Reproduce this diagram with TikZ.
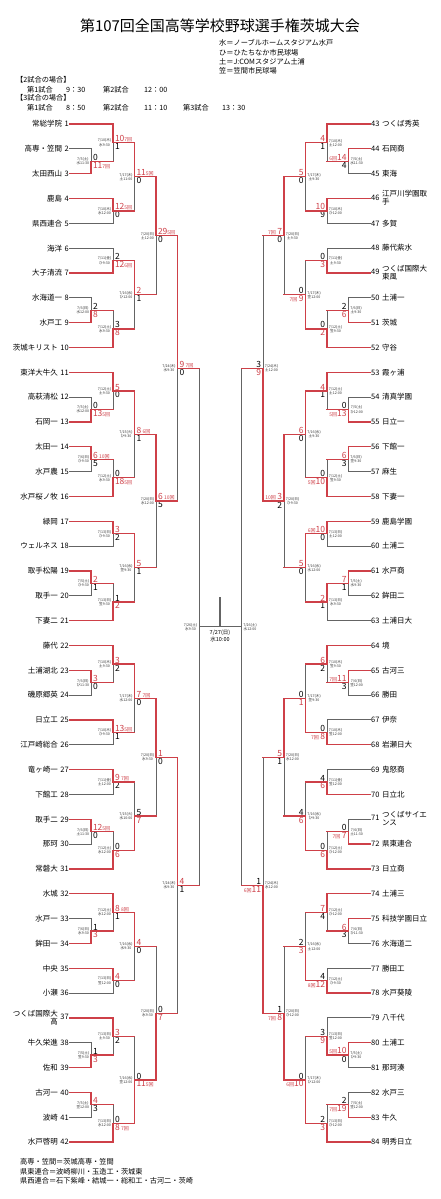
\documentclass[tikz,border=0pt]{standalone}
\usepackage{fontspec}
\setmainfont{Noto Sans CJK JP}
\usetikzlibrary{calc}
\pgfdeclarelayer{front}
\pgfsetlayers{main,front}
\definecolor{wred}{RGB}{206,64,72}
\definecolor{lgray}{RGB}{100,100,100}
\renewcommand\arraystretch{0.78}
\tikzset{
  ln-r/.style={draw=wred, line width=1.3pt, line cap=rect},
  ln-g/.style={draw=lgray, line width=0.9pt, line cap=rect},
  teamlbl/.style={font=\fontsize{7.5}{8}\selectfont, inner sep=0.5pt},
  sc/.style={font=\fontsize{8.5}{9}\selectfont, inner sep=0.6pt},
  dt/.style={font=\fontsize{3.6}{4.1}\selectfont, align=center, inner sep=0.4pt, text=black!80},
  hdr/.style={font=\fontsize{7.2}{8}\selectfont, inner sep=0pt, anchor=west},
}
\newcommand\inn[1]{{\fontsize{5}{5}\selectfont#1}}
\newcommand\seg[3]{\if r#1\begin{pgfonlayer}{front}\draw[ln-r] (#2) -- (#3);\end{pgfonlayer}\else\draw[ln-g] (#2) -- (#3);\fi}
\newcommand\setwin[1]{\ifcase#1 \def\vA{g}\def\vB{g}\def\cA{black}\def\cB{black}%
  \or \def\vA{r}\def\vB{g}\def\cA{wred}\def\cB{black}%
  \or \def\vA{g}\def\vB{r}\def\cA{black}\def\cB{wred}\fi}
% left match: name, X, A, B, styleA, styleB, winner, scoreA, scoreB
\newcommand\mL[9]{%
  \coordinate (#1-m) at ($(#3)!.5!(#4)$);
  \coordinate (#1) at (#1-m -| #2);
  \seg{#5}{#3}{#3 -| #1}%
  \seg{#6}{#4}{#4 -| #1}%
  \setwin{#7}%
  \seg{\vA}{#3 -| #1}{#1}%
  \seg{\vB}{#1}{#4 -| #1}%
  \node[sc,text=\cA,anchor=south west] (#1-a) at ([xshift=1.2pt]#1) {#8};
  \node[sc,text=\cB,anchor=north west] (#1-b) at ([xshift=1.2pt]#1) {#9};
}
\newcommand\mR[9]{%
  \coordinate (#1-m) at ($(#3)!.5!(#4)$);
  \coordinate (#1) at (#1-m -| #2);
  \seg{#5}{#3}{#3 -| #1}%
  \seg{#6}{#4}{#4 -| #1}%
  \setwin{#7}%
  \seg{\vA}{#3 -| #1}{#1}%
  \seg{\vB}{#1}{#4 -| #1}%
  \node[sc,text=\cA,anchor=south east] (#1-a) at ([xshift=-1.2pt]#1) {#8};
  \node[sc,text=\cB,anchor=north east] (#1-b) at ([xshift=-1.2pt]#1) {#9};
}
\newcommand\dL[2]{\node[dt,anchor=east] (#1-d) at ([xshift=-1.2pt]#1) {#2};}
\newcommand\dR[2]{\node[dt,anchor=west] (#1-d) at ([xshift=1.2pt]#1) {#2};}
\newcommand\tL[2]{\pgfmathsetmacro\yy{124+(#1-1)*24.83}\node[teamlbl,anchor=east] (t#1) at (69.5,\yy) {#2\hspace{2.5pt}#1};}
\newcommand\tR[2]{\pgfmathsetmacro\yy{124+(#1-43)*24.83}\node[teamlbl,anchor=west] (t#1) at (370.5,\yy) {#1\hspace{2.5pt}#2};}
\begin{document}
\begin{tikzpicture}[x=1pt,y=-1pt]
\fill[white] (0,0) rectangle (440,1199);
\path[use as bounding box] (0,0) rectangle (440,1199);
% header
\node[font=\fontsize{15}{16}\selectfont, inner sep=0pt] (title) at (220,26) {第107回全国高等学校野球選手権茨城大会};
\node[hdr] (lg1) at (219,43) {水＝ノーブルホームスタジアム水戸};
\node[hdr] (lg2) at (219,52.5) {ひ＝ひたちなか市民球場};
\node[hdr] (lg3) at (219,62) {土＝J:COMスタジアム土浦};
\node[hdr] (lg4) at (219,71) {笠＝笠間市民球場};
\node[hdr] (h2) at (16,80) {【2試合の場合】};
\node[hdr] (h2a) at (27,90) {第1試合};
\node[hdr] (h2b) at (66,90) {9：30};
\node[hdr] (h2c) at (103,90) {第2試合};
\node[hdr] (h2d) at (144,90) {12：00};
\node[hdr] (h3) at (16,98) {【3試合の場合】};
\node[hdr] (h3a) at (27,108) {第1試合};
\node[hdr] (h3b) at (66,108) {8：50};
\node[hdr] (h3c) at (103,108) {第2試合};
\node[hdr] (h3d) at (144,108) {11：10};
\node[hdr] (h3e) at (183,108) {第3試合};
\node[hdr] (h3f) at (222,108) {13：30};
% footer
\node[hdr] (f1) at (20,1162) {高専・笠間＝茨城高専・笠間};
\node[hdr] (f2) at (20,1171.5) {県東連合＝波崎柳川・玉造工・茨城東};
\node[hdr] (f3) at (20,1181) {県西連合＝石下紫峰・結城一・総和工・古河二・茨崎};
% x levels
\coordinate (LP) at (91,0);  \coordinate (L1) at (113,0); \coordinate (L2) at (134.5,0);
\coordinate (L3) at (156,0); \coordinate (L4) at (177.5,0); \coordinate (L5) at (199,0);
\coordinate (RP) at (348.5,0); \coordinate (R1) at (327,0); \coordinate (R2) at (305.5,0);
\coordinate (R3) at (284,0); \coordinate (R4) at (263,0); \coordinate (R5) at (241.5,0);
% left teams
\tL{1}{常総学院}\tL{2}{高専・笠間}\tL{3}{太田西山}\tL{4}{鹿島}\tL{5}{県西連合}
\tL{6}{海洋}\tL{7}{大子清流}\tL{8}{水海道一}\tL{9}{水戸工}\tL{10}{茨城キリスト}
\tL{11}{東洋大牛久}\tL{12}{高萩清松}\tL{13}{石岡一}\tL{14}{太田一}\tL{15}{水戸農}
\tL{16}{水戸桜ノ牧}\tL{17}{緑岡}\tL{18}{ウェルネス}\tL{19}{取手松陽}\tL{20}{取手一}
\tL{21}{下妻二}\tL{22}{藤代}\tL{23}{土浦湖北}\tL{24}{磯原郷英}\tL{25}{日立工}
\tL{26}{江戸崎総合}\tL{27}{竜ヶ崎一}\tL{28}{下館工}\tL{29}{取手二}\tL{30}{那珂}
\tL{31}{常磐大}\tL{32}{水城}\tL{33}{水戸一}\tL{34}{鉾田一}\tL{35}{中央}\tL{36}{小瀬}
\tL{37}{\begin{tabular}{@{}r@{}}つくば国際大\\高\end{tabular}}
\tL{38}{牛久栄進}\tL{39}{佐和}\tL{40}{古河一}\tL{41}{波崎}\tL{42}{水戸啓明}
% right teams
\tR{43}{つくば秀英}\tR{44}{石岡商}\tR{45}{東海}
\tR{46}{\begin{tabular}{@{}l@{}}江戸川学園取\\手\end{tabular}}
\tR{47}{多賀}\tR{48}{藤代紫水}
\tR{49}{\begin{tabular}{@{}l@{}}つくば国際大\\東風\end{tabular}}
\tR{50}{土浦一}\tR{51}{茨城}\tR{52}{守谷}\tR{53}{霞ヶ浦}\tR{54}{清真学園}\tR{55}{日立一}
\tR{56}{下館一}\tR{57}{麻生}\tR{58}{下妻一}\tR{59}{鹿島学園}\tR{60}{土浦二}\tR{61}{水戸商}
\tR{62}{鉾田二}\tR{63}{土浦日大}\tR{64}{境}\tR{65}{古河三}\tR{66}{勝田}\tR{67}{伊奈}
\tR{68}{岩瀬日大}\tR{69}{鬼怒商}\tR{70}{日立北}
\tR{71}{\begin{tabular}{@{}l@{}}つくばサイエ\\ンス\end{tabular}}
\tR{72}{県東連合}\tR{73}{日立商}\tR{74}{土浦三}\tR{75}{科技学園日立}\tR{76}{水海道二}
\tR{77}{勝田工}\tR{78}{水戸葵陵}\tR{79}{八千代}\tR{80}{土浦工}\tR{81}{那珂湊}
\tR{82}{水戸三}\tR{83}{牛久}\tR{84}{明秀日立}
% ===== left preliminaries
\mL{pA}{LP}{t2.east}{t3.east}{g}{r}{2}{0}{11\inn{7回}}\dL{pA}{7/5(土)\\水11:30}
\mL{pB}{LP}{t8.east}{t9.east}{g}{r}{2}{2}{8}\dL{pB}{7/6(日)\\水12:00}
\mL{pC}{LP}{t12.east}{t13.east}{g}{r}{2}{0}{13\inn{5回}}\dL{pC}{7/5(土)\\水12:00}
\mL{pD}{LP}{t14.east}{t15.east}{r}{g}{1}{6\,\inn{10回}}{5}\dL{pD}{7/6(日)\\ひ9:30}
\mL{pE}{LP}{t19.east}{t20.east}{r}{g}{1}{2}{1}\dL{pE}{7/5(土)\\ひ9:30}
\mL{pF}{LP}{t23.east}{t24.east}{r}{g}{1}{3}{0}\dL{pF}{7/6(日)\\ひ11:30}
\mL{pG}{LP}{t29.east}{t30.east}{r}{g}{1}{12\inn{5回}}{0}\dL{pG}{7/6(日)\\土11:30}
\mL{pH}{LP}{t33.east}{t34.east}{g}{r}{2}{1}{3}\dL{pH}{7/6(日)\\水9:30}
\mL{pI}{LP}{t38.east}{t39.east}{g}{r}{2}{1}{3}\dL{pI}{7/5(土)\\笠9:30}
\mL{pJ}{LP}{t40.east}{t41.east}{r}{g}{1}{4}{3}\dL{pJ}{7/5(土)\\笠12:00}
% left round 1
\mL{aA}{L1}{t1.east}{pA}{r}{r}{1}{10\inn{7回}}{1}\dL{aA}{7/10(木)\\水9:30}
\mL{aB}{L1}{t4.east}{t5.east}{r}{g}{1}{12\inn{5回}}{0}\dL{aB}{7/10(木)\\水12:00}
\mL{aC}{L1}{t6.east}{t7.east}{g}{r}{2}{2}{12\inn{6回}}\dL{aC}{7/11(金)\\ひ9:30}
\mL{aD}{L1}{pB}{t10.east}{r}{r}{2}{3}{8}\dL{aD}{7/12(土)\\水9:30}
\mL{aE}{L1}{t11.east}{pC}{r}{r}{1}{5}{0}\dL{aE}{7/12(土)\\土9:30}
\mL{aF}{L1}{pD}{t16.east}{r}{r}{2}{0}{18\inn{5回}}\dL{aF}{7/12(土)\\水9:30}
\mL{aG}{L1}{t17.east}{t18.east}{r}{g}{1}{3}{2}\dL{aG}{7/13(日)\\ひ9:30}
\mL{aH}{L1}{pE}{t21.east}{r}{r}{2}{1}{2}\dL{aH}{7/13(日)\\笠9:30}
\mL{aI}{L1}{t22.east}{pF}{r}{r}{1}{3}{2}\dL{aI}{7/10(木)\\土9:30}
\mL{aJ}{L1}{t25.east}{t26.east}{r}{g}{1}{13\inn{5回}}{1}\dL{aJ}{7/10(木)\\ひ9:30}
\mL{aK}{L1}{t27.east}{t28.east}{r}{g}{1}{9\,\inn{7回}}{2}\dL{aK}{7/11(金)\\土12:00}
\mL{aL}{L1}{pG}{t31.east}{r}{r}{2}{0}{6}\dL{aL}{7/12(土)\\水12:00}
\mL{aM}{L1}{t32.east}{pH}{r}{r}{1}{8\,\inn{8回}}{1}\dL{aM}{7/12(土)\\水12:00}
\mL{aN}{L1}{t35.east}{t36.east}{r}{g}{1}{4}{0}\dL{aN}{7/13(日)\\笠12:00}
\mL{aO}{L1}{t37.east}{pI}{r}{r}{1}{3}{2}\dL{aO}{7/13(日)\\土9:30}
\mL{aP}{L1}{pJ}{t42.east}{r}{r}{2}{0}{8\,\inn{7回}}\dL{aP}{7/13(日)\\水12:00}
% left round 2
\mL{bA}{L2}{aA}{aB}{r}{r}{1}{11\inn{5回}}{0}\dL{bA}{7/17(木)\\土11:00}
\mL{bB}{L2}{aC}{aD}{r}{r}{1}{2}{1}\dL{bB}{7/16(水)\\ひ12:00}
\mL{bC}{L2}{aE}{aF}{r}{r}{1}{8\,\inn{6回}}{1}\dL{bC}{7/15(火)\\ひ9:30}
\mL{bD}{L2}{aG}{aH}{r}{r}{1}{5}{1}\dL{bD}{7/16(水)\\笠9:30}
\mL{bE}{L2}{aI}{aJ}{r}{r}{1}{7\,\inn{7回}}{0}\dL{bE}{7/17(木)\\水12:00}
\mL{bF}{L2}{aK}{aL}{r}{r}{2}{5}{7}\dL{bF}{7/15(火)\\水10:00}
\mL{bG}{L2}{aM}{aN}{r}{r}{1}{4}{0}\dL{bG}{7/16(水)\\水9:30}
\mL{bH}{L2}{aO}{aP}{r}{r}{2}{0}{11\inn{5回}}\dL{bH}{7/16(水)\\笠12:00}
% left round 3
\mL{cA}{L3}{bA}{bB}{r}{r}{1}{29\inn{5回}}{0}\dL{cA}{7/20(日)\\土12:00}
\mL{cB}{L3}{bC}{bD}{r}{r}{1}{6\,\inn{10回}}{5}\dL{cB}{7/20(日)\\水12:00}
\mL{cC}{L3}{bE}{bF}{r}{r}{1}{1}{0}\dL{cC}{7/20(日)\\水9:30}
\mL{cD}{L3}{bG}{bH}{r}{r}{2}{0}{7}\dL{cD}{7/20(日)\\水9:30}
% left QF, SF
\mL{dA}{L4}{cA}{cB}{r}{r}{1}{9\,\inn{7回}}{0}\dL{dA}{7/24(木)\\水9:30}
\mL{dB}{L4}{cC}{cD}{r}{r}{1}{4}{1}\dL{dB}{7/24(木)\\水9:30}
\mL{eA}{L5}{dA}{dB}{r}{r}{0}{}{}\dL{eA}{7/26(土)\\水9:30}
% ===== right preliminaries
\mR{pK}{RP}{t44.west}{t45.west}{r}{g}{1}{\inn{6回}14}{4}\dR{pK}{7/5(土)\\水11:30}
\mR{pL}{RP}{t50.west}{t51.west}{g}{r}{2}{2}{6}\dR{pL}{7/6(日)\\土9:30}
\mR{pM}{RP}{t54.west}{t55.west}{g}{r}{2}{0}{\inn{5回}13}\dR{pM}{7/5(土)\\ひ12:00}
\mR{pN}{RP}{t56.west}{t57.west}{r}{g}{1}{6}{3}\dR{pN}{7/6(日)\\笠9:30}
\mR{pO}{RP}{t61.west}{t62.west}{r}{g}{1}{7}{1}\dR{pO}{7/5(土)\\水9:30}
\mR{pP}{RP}{t65.west}{t66.west}{r}{g}{1}{\inn{7回}11}{3}\dR{pP}{7/6(日)\\笠12:00}
\mR{pQ}{RP}{t71.west}{t72.west}{g}{r}{2}{0}{\inn{7回}\,7}\dR{pQ}{7/6(日)\\土11:30}
\mR{pR}{RP}{t75.west}{t76.west}{r}{g}{1}{6}{3}\dR{pR}{7/6(日)\\ひ11:30}
\mR{pS}{RP}{t80.west}{t81.west}{r}{g}{1}{\inn{5回}10}{0}\dR{pS}{7/5(土)\\ひ9:30}
\mR{pT}{RP}{t82.west}{t83.west}{g}{r}{2}{2}{\inn{7回}19}\dR{pT}{7/5(土)\\笠12:00}
% right round 1
\mR{aQ}{R1}{t43.west}{pK}{r}{r}{1}{4}{1}\dR{aQ}{7/10(木)\\土12:00}
\mR{aR}{R1}{t46.west}{t47.west}{r}{g}{1}{10}{9}\dR{aR}{7/10(木)\\ひ12:00}
\mR{aS}{R1}{t48.west}{t49.west}{g}{r}{2}{0}{3}\dR{aS}{7/11(金)\\土9:30}
\mR{aT}{R1}{pL}{t52.west}{r}{r}{2}{0}{2}\dR{aT}{7/12(土)\\笠9:30}
\mR{aU}{R1}{t53.west}{pM}{r}{r}{1}{4}{1}\dR{aU}{7/12(土)\\土12:00}
\mR{aV}{R1}{pN}{t58.west}{r}{r}{2}{0}{\inn{5回}10}\dR{aV}{7/12(土)\\笠9:30}
\mR{aW}{R1}{t59.west}{t60.west}{r}{g}{1}{\inn{6回}10}{0}\dR{aW}{7/13(日)\\土12:00}
\mR{aX}{R1}{pO}{t63.west}{r}{g}{1}{2}{1}\dR{aX}{7/13(日)\\水9:30}
\mR{aY}{R1}{t64.west}{pP}{r}{r}{1}{6}{2}\dR{aY}{7/10(木)\\笠9:30}
\mR{aZ}{R1}{t67.west}{t68.west}{g}{r}{2}{0}{\inn{7回}\,8}\dR{aZ}{7/10(木)\\笠12:00}
\mR{a1}{R1}{t69.west}{t70.west}{g}{r}{2}{4}{6}\dR{a1}{7/11(金)\\笠12:00}
\mR{a2}{R1}{pQ}{t73.west}{r}{r}{2}{0}{6}\dR{a2}{7/12(土)\\ひ12:00}
\mR{a3}{R1}{t74.west}{pR}{r}{r}{1}{7}{4}\dR{a3}{7/12(土)\\ひ12:00}
\mR{a4}{R1}{t77.west}{t78.west}{g}{r}{2}{4}{\inn{8回}12}\dR{a4}{7/12(土)\\ひ9:30}
\mR{a5}{R1}{t79.west}{pS}{g}{r}{2}{3}{9}\dR{a5}{7/13(日)\\笠12:00}
\mR{a6}{R1}{pT}{t84.west}{r}{r}{2}{2}{3}\dR{a6}{7/13(日)\\ひ12:00}
% right round 2
\mR{bI}{R2}{aQ}{aR}{r}{r}{1}{5}{0}\dR{bI}{7/17(木)\\土9:30}
\mR{bJ}{R2}{aS}{aT}{r}{r}{2}{0}{\inn{7回}\,9}\dR{bJ}{7/17(木)\\笠12:00}
\mR{bK}{R2}{aU}{aV}{r}{r}{1}{6}{0}\dR{bK}{7/16(水)\\土9:30}
\mR{bL}{R2}{aW}{aX}{r}{r}{1}{5}{0}\dR{bL}{7/16(水)\\水12:00}
\mR{bM}{R2}{aY}{aZ}{r}{r}{2}{0}{1}\dR{bM}{7/17(木)\\笠9:30}
\mR{bN}{R2}{a1}{a2}{r}{r}{2}{4}{6}\dR{bN}{7/16(水)\\ひ9:30}
\mR{bO}{R2}{a3}{a4}{r}{r}{2}{2}{3}\dR{bO}{7/16(水)\\土12:00}
\mR{bP}{R2}{a5}{a6}{r}{r}{2}{0}{\inn{6回}10}\dR{bP}{7/17(木)\\ひ12:00}
% right round 3
\mR{cE}{R3}{bI}{bJ}{r}{r}{1}{\inn{7回}\,7}{0}\dR{cE}{7/20(日)\\土9:30}
\mR{cF}{R3}{bK}{bL}{r}{r}{1}{\inn{10回}\,3}{2}\dR{cF}{7/20(日)\\ひ9:30}
\mR{cG}{R3}{bM}{bN}{r}{r}{1}{5}{1}\dR{cG}{7/20(日)\\水12:00}
\mR{cH}{R3}{bO}{bP}{r}{r}{2}{1}{\inn{7回}\,8}\dR{cH}{7/20(日)\\ひ12:00}
% right QF, SF
\mR{dC}{R4}{cE}{cF}{r}{r}{2}{3}{9}\dR{dC}{7/24(木)\\土12:00}
\mR{dD}{R4}{cG}{cH}{r}{r}{2}{1}{\inn{6回}11}\dR{dD}{7/24(木)\\水12:00}
\mR{eB}{R5}{dC}{dD}{r}{r}{0}{}{}\dR{eB}{7/26(土)\\水12:00}
% final
\draw[ln-g] (eA) -- (eB);
\coordinate (champ) at (220,597);
\draw[lgray, line width=2pt] (champ) -- (champ |- eA);
\node[font=\fontsize{5.5}{6.6}\selectfont, align=center, anchor=north, inner sep=0pt] (fdate) at ([yshift=-3pt]champ |- eA) {7/27(日)\\水10:00};
\end{tikzpicture}
\end{document}
